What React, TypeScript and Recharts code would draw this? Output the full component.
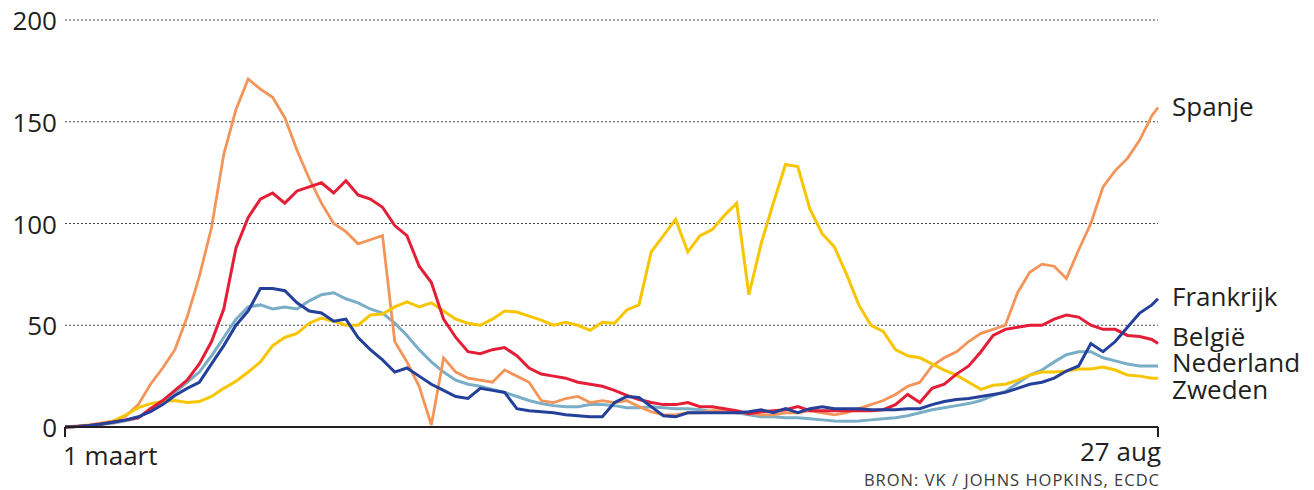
import React from 'react';
import { LineChart, Line, XAxis, YAxis, CartesianGrid } from 'recharts';

// days since 1 March (0 = 1 maart, 179 = 27 aug)
const days = [
    0, 2, 4, 6, 8, 10, 12, 14, 16, 18, 20, 22, 24, 26, 28, 30, 32, 34, 36, 38,
    40, 42, 44, 46, 48, 50, 52, 54, 56, 58, 60, 62, 64, 66, 68, 70, 72, 74, 76, 78,
    80, 82, 84, 86, 88, 90, 92, 94, 96, 98, 100, 102, 104, 106, 108, 110, 112, 114, 116, 118,
    120, 122, 124, 126, 128, 130, 132, 134, 136, 138, 140, 142, 144, 146, 148, 150, 152, 154, 156, 158,
    160, 162, 164, 166, 168, 170, 172, 174, 176, 178, 179,
];

const spanje = [
    0, 0.5, 1, 2, 3, 5.5, 11, 21, 29, 38, 54, 74, 98, 134, 156, 171, 166, 162, 152, 136,
    122, 110, 100, 96, 90, 92, 94, 42, 32, 20, 1, 34, 27, 24, 23, 22, 28, 25, 22, 13,
    12, 14, 15, 12, 13, 12, 13, 10, 7.5, 6, 6, 7, 7, 8, 8, 7, 7, 6, 6, 7,
    7, 8, 7, 6, 7, 9, 11, 13, 16, 20, 22, 30, 34, 37, 42, 46, 48, 50, 66, 76,
    80, 79, 73, 87, 100, 118, 126, 132, 141, 153, 157,
];

const frankrijk = [
    0, 0.3, 0.8, 1.5, 2.5, 3.5, 5, 7.5, 11, 15.5, 19, 22, 31, 40, 50, 57, 68, 68, 67, 61,
    57, 56, 52, 53, 44, 38, 33, 27, 29, 25, 21, 18, 15, 14, 19, 18, 17, 9, 8, 7.5,
    7, 6, 5.5, 5, 5, 12, 15, 14.5, 10, 5.5, 5, 7, 7, 7, 7, 7, 7.5, 8.5, 7, 9,
    7, 9, 10, 9, 9, 9, 8.5, 8.5, 8.5, 9, 9, 11, 12.5, 13.5, 14, 15, 16, 17, 19, 21,
    22, 24, 27.5, 30, 41, 37, 42, 49, 56, 60, 63,
];

const belgie = [
    0, 0.3, 0.8, 1.5, 2.5, 3.5, 4.5, 9, 13, 18, 23, 31, 42, 58, 88, 103, 112, 115, 110, 116,
    118, 120, 115, 121, 114, 112, 108, 99, 94, 79, 71, 53, 44, 37, 36, 38, 39, 35, 29, 26,
    25, 24, 22, 21, 20, 18, 15.5, 13.5, 12, 11, 11, 12, 10, 10, 9, 8, 6.5, 7.5, 8, 8.5,
    10, 8, 8, 8, 8, 8, 8, 8.5, 11, 16, 12, 19, 21, 26, 30, 37, 45, 48, 49, 50,
    50, 53, 55, 54, 50, 48, 48, 45, 44.5, 43, 41,
];

const nederland = [
    0, 0.2, 0.6, 1.2, 2, 3, 4.5, 9, 12.5, 17, 22, 27, 35, 44, 53, 59, 60, 58, 59, 58,
    62, 65, 66, 63, 61, 58, 56, 51, 45, 38, 32, 27, 23, 21, 20, 18.5, 17, 15, 13, 11.5,
    10.5, 10, 10, 11, 11, 10.5, 9.5, 9.5, 10, 9.5, 9, 9, 8.5, 7.5, 7.5, 7, 6, 5, 5, 4.5,
    4.5, 4, 3.5, 3, 2.8, 3, 3.5, 4, 4.5, 5.5, 7, 8.5, 9.5, 10.5, 11.5, 13, 15.5, 17.5, 21.5, 25.5,
    28, 32, 35.5, 37, 37, 34, 32.5, 31, 30, 30, 30,
];

const zweden = [
    0, 0.2, 0.6, 1.5, 3, 6, 9.5, 11.5, 12.5, 13, 12, 12.5, 15, 19, 22.5, 27, 32, 40, 44, 46,
    51, 53.5, 52, 50, 50, 55, 55.5, 59, 61.5, 59, 61, 57, 53, 51, 50, 53, 57, 56.5, 54.5, 52.5,
    50, 51.5, 50, 47.5, 51.5, 51, 57.5, 60, 86, 94, 102, 86, 94, 97, 104, 110, 65, 90, 110, 129,
    128, 107, 95, 88.5, 75, 60, 50, 47, 38, 35, 34, 31, 28, 25.5, 22, 18.5, 20.5, 21, 23, 25.5,
    27, 27, 27.5, 28.5, 28.5, 29.5, 28, 25.5, 25, 24, 24,
];

const yTicks = [0, 50, 100, 150, 200];
const xTicks = [0, 179];
const xTickLabels: Record<number, string> = { 0: '1 maart', 179: '27 aug' };

const FONT = '"Open Sans", sans-serif';
const INK = '#231f20';

const data = days.map((day, i) => ({
    day,
    spanje: spanje[i],
    frankrijk: frankrijk[i],
    belgie: belgie[i],
    nederland: nederland[i],
    zweden: zweden[i],
}));

const YTick = ({ y, payload }: any) => (
    <text x={57} y={y} dy={10} textAnchor="end" fontSize={26} fill={INK} fontFamily={FONT}>
        {payload.value}
    </text>
);

const XTick = ({ x, payload }: any) => {
    const first = payload.value === 0;
    return (
        <text
            x={first ? x - 2 : x + 3}
            y={first ? 465 : 461}
            textAnchor={first ? 'start' : 'end'}
            fontSize={26}
            fill={INK}
            fontFamily={FONT}
        >
            {xTickLabels[payload.value]}
        </text>
    );
};

const labels = [
    { name: 'Spanje', y: 116 },
    { name: 'Frankrijk', y: 306 },
    { name: 'België', y: 346 },
    { name: 'Nederland', y: 372 },
    { name: 'Zweden', y: 399 },
];

const App: React.FC = () => {
    return (
        <div style={{ position: 'absolute', left: 0, top: 0, width: 1314, height: 490, background: '#fff' }}>
            <LineChart width={1314} height={490} data={data} margin={{ top: 20, right: 156, bottom: 23, left: 0 }}>
                <CartesianGrid vertical={false} strokeDasharray="2 2" stroke="#444" />
                <XAxis
                    dataKey="day"
                    type="number"
                    domain={[0, 179]}
                    ticks={xTicks}
                    height={40}
                    tickSize={10}
                    tick={<XTick />}
                    axisLine={{ stroke: INK, strokeWidth: 2 }}
                    tickLine={{ stroke: INK, strokeWidth: 2 }}
                />
                <YAxis
                    domain={[0, 200]}
                    ticks={yTicks}
                    width={65}
                    axisLine={false}
                    tickLine={false}
                    tick={<YTick />}
                />
                <Line dataKey="nederland" stroke="#79aec6" strokeWidth={3} dot={false} isAnimationActive={false} />
                <Line dataKey="spanje" stroke="#f39459" strokeWidth={2.8} dot={false} isAnimationActive={false} />
                <Line dataKey="zweden" stroke="#f7c600" strokeWidth={3} dot={false} isAnimationActive={false} />
                <Line dataKey="belgie" stroke="#e41e36" strokeWidth={3} dot={false} isAnimationActive={false} />
                <Line dataKey="frankrijk" stroke="#24409a" strokeWidth={3} dot={false} isAnimationActive={false} />
            </LineChart>
            <svg width={1314} height={490} style={{ position: 'absolute', left: 0, top: 0, pointerEvents: 'none' }}>
                {labels.map((l) => (
                    <text key={l.name} x={1172} y={l.y} fontSize={26} fill={INK} fontFamily={FONT}>
                        {l.name}
                    </text>
                ))}
                <text x={1160} y={486} textAnchor="end" fontSize={16.5} letterSpacing={1} fill="#3a3a3a" fontFamily={FONT}>
                    BRON: VK / JOHNS HOPKINS, ECDC
                </text>
            </svg>
        </div>
    );
};

export default App;
